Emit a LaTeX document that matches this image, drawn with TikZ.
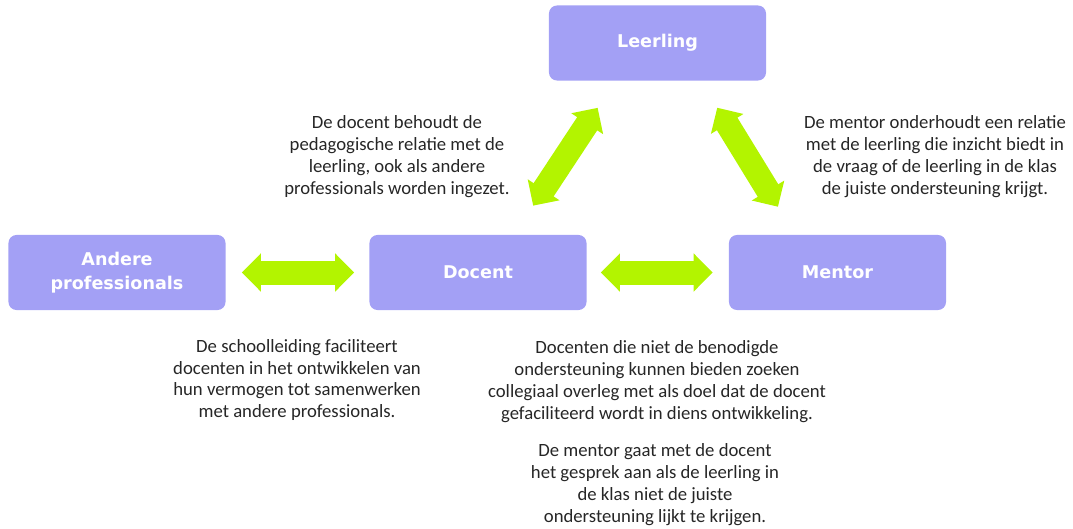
\documentclass[tikz,border=0pt]{standalone}
\usepackage{fontspec}
\setmainfont{Carlito}
\newfontfamily\boxfont{DejaVu Sans}
\usetikzlibrary{positioning}
\usetikzlibrary {arrows.meta}
\definecolor{boxpaars}{HTML}{A3A0F5}
\definecolor{pijlgroen}{HTML}{B3F400}
\definecolor{tekstgrijs}{HTML}{262626}
\tikzset{
    rol/.style={fill=boxpaars, rounded corners=0.2cm, minimum width=5.425cm,
        minimum height=1.875cm, text=white, align=center,
        font=\boxfont\bfseries\fontsize{12.5}{17}\selectfont},
    uitleg/.style={text=tekstgrijs, align=center, inner sep=0pt,
        font=\fontsize{13.3}{15.6}\selectfont},
    dubbel/.style={draw=pijlgroen, line width=0.6cm,
        {Triangle[width=0.925cm,length=0.475cm]}-{Triangle[width=0.925cm,length=0.475cm]}},
}
\begin{document}
\begin{tikzpicture}[x=0.025cm,y=-0.025cm]
    \useasboundingbox (0,0) rectangle (1073,528);
    %% rollen
    \node[rol] (leer) at (657.5,43) {Leerling};
    \node[rol] (doc) at (478,272.5) {Docent};
    \node[rol] (ment) at (837.5,272.5) {Mentor};
    \node[rol] (andere) at (117,272.5) {Andere\\professionals};
    % pijlen tussen de rollen
    \draw[dubbel, shorten <=0.4cm, shorten >=0.375cm] (andere) -- (doc);
    \draw[dubbel, shorten <=0.35cm, shorten >=0.4cm] (doc) -- (ment);
    \draw[dubbel, shorten <=0.87cm, shorten >=0.81cm]
        ([xshift=0.9cm]doc.north) -- ([xshift=-1.05cm]leer.south);
    \draw[dubbel, shorten <=0.79cm, shorten >=0.82cm]
        ([xshift=1.08cm]leer.south) -- ([xshift=-1.06cm]ment.north);
    %% toelichtingen
    \node[uitleg] (t1) at (397,157) {De docent behoudt de\\pedagogische relatie met de\\leerling, ook als andere\\professionals worden ingezet.};
    \node[uitleg] (t2) at (935,157) {De mentor onderhoudt een relatie\\met de leerling die inzicht biedt in\\de vraag of de leerling in de klas\\de juiste ondersteuning krijgt.};
    \node[uitleg] (t3) at (297,380) {De schoolleiding faciliteert\\docenten in het ontwikkelen van\\hun vermogen tot samenwerken\\met andere professionals.};
    \node[uitleg] (t4) at (657,382) {Docenten die niet de benodigde\\ondersteuning kunnen bieden zoeken\\collegiaal overleg met als doel dat de docent\\gefaciliteerd wordt in diens ontwikkeling.};
    \node[uitleg] (t5) at (655,485) {De mentor gaat met de docent\\het gesprek aan als de leerling in\\de klas niet de juiste\\ondersteuning lijkt te krijgen.};
\end{tikzpicture}
\end{document}
